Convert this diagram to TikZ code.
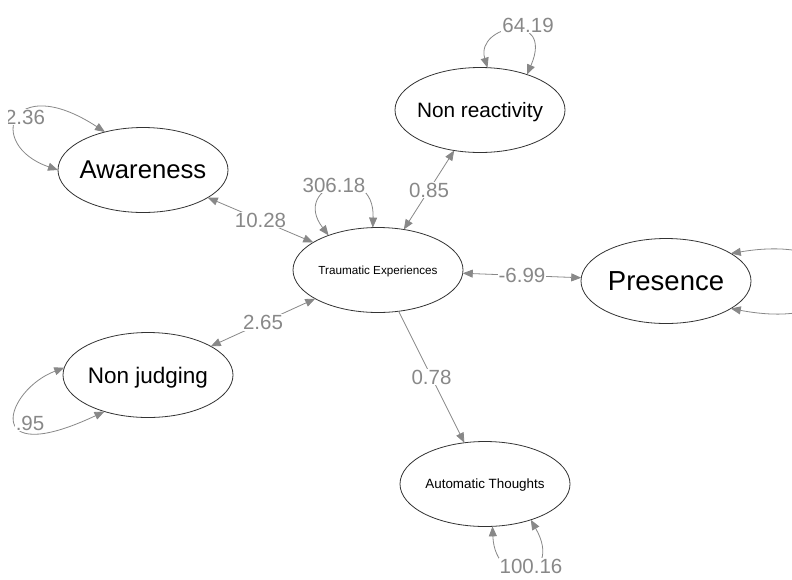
\documentclass[tikz,border=0pt]{standalone}
\usepackage{fontspec}
\setmainfont{Liberation Sans}
\usetikzlibrary{arrows.meta,shapes.geometric}
\definecolor{edgegray}{HTML}{888888}
\definecolor{lblgray}{HTML}{888888}
\definecolor{bordergray}{HTML}{333333}
\newcommand\zw[1]{\makebox[0pt]{#1}}
\begin{document}
\begin{tikzpicture}[x=1pt,y=-1pt,
  >={Triangle[length=10pt,width=8pt]},
  lat/.style={ellipse, draw=bordergray, line width=0.8pt, minimum width=170pt,
    minimum height=85pt, inner sep=0pt, outer sep=0pt, text=black, text depth=0pt},
  con/.style={draw=edgegray, line width=0.8pt},
  lbl/.style={fill=white, text=lblgray, font=\fontsize{20.5}{24}\selectfont, inner sep=1pt}]
\useasboundingbox (0,0) rectangle (792,579);
\clip (0,0) rectangle (792,579);
\fill[white] (0,0) rectangle (792,579);

% latent nodes
\node[lat, font=\fontsize{25.7}{30}\selectfont] (aw) at (143,170) {\zw{Awareness}};
\node[lat, font=\fontsize{20.8}{25}\selectfont] (nr) at (480,110) {\zw{Non reactivity}};
\node[lat, font=\fontsize{11.7}{14}\selectfont] (te) at (378,270) {\zw{Traumatic Experiences}};
\node[lat, font=\fontsize{27.5}{32}\selectfont] (pr) at (666,281) {\zw{Presence}};
\node[lat, font=\fontsize{22.5}{27}\selectfont] (nj) at (148,375) {\zw{Non judging}};
\node[lat, font=\fontsize{13.4}{16}\selectfont] (at) at (485,484) {\zw{Automatic Thoughts}};

% connectors
\draw[con,<->] (aw) -- node[lbl] (e1) {10.28} (te);
\draw[con,<->] (nr) -- node[lbl] (e2) {0.85} (te);
\draw[con,<->] (te) -- node[lbl] (e3) {-6.99} (pr);
\draw[con,<->] (nj) -- node[lbl] (e4) {2.65} (te);
\draw[con,->] (te) -- node[lbl] (e5) {0.78} (at);

% variance loops
\draw[con,<->] (aw.180) .. controls (-15,145) and (10,70) .. (aw.135);
\draw[con,<->] (nr.80) .. controls (475,25) and (555,10) .. (nr.37);
\draw[con,<->] (te.145) .. controls (290,185) and (375,160) .. (te.97);
\draw[con,<->] (pr.23) .. controls (870,230) and (870,335) .. (pr.-23);
\draw[con,<->] (nj.175) .. controls (5,390) and (-20,470) .. (nj.220);
\draw[con,<->] (at.280) .. controls (495,590) and (565,580) .. (at.322);

% loop labels
\begin{scope}
\clip (8,0) rectangle (792,579);
\node[lbl] (v1) at (25,117) {2.36};
\node[lbl] (v5) at (30,423) {.95};
\end{scope}
\node[lbl] (v2) at (528,25) {64.19};
\node[lbl] (v3) at (334,185) {306.18};
\node[lbl] (v6) at (531,566) {100.16};
\end{tikzpicture}
\end{document}
